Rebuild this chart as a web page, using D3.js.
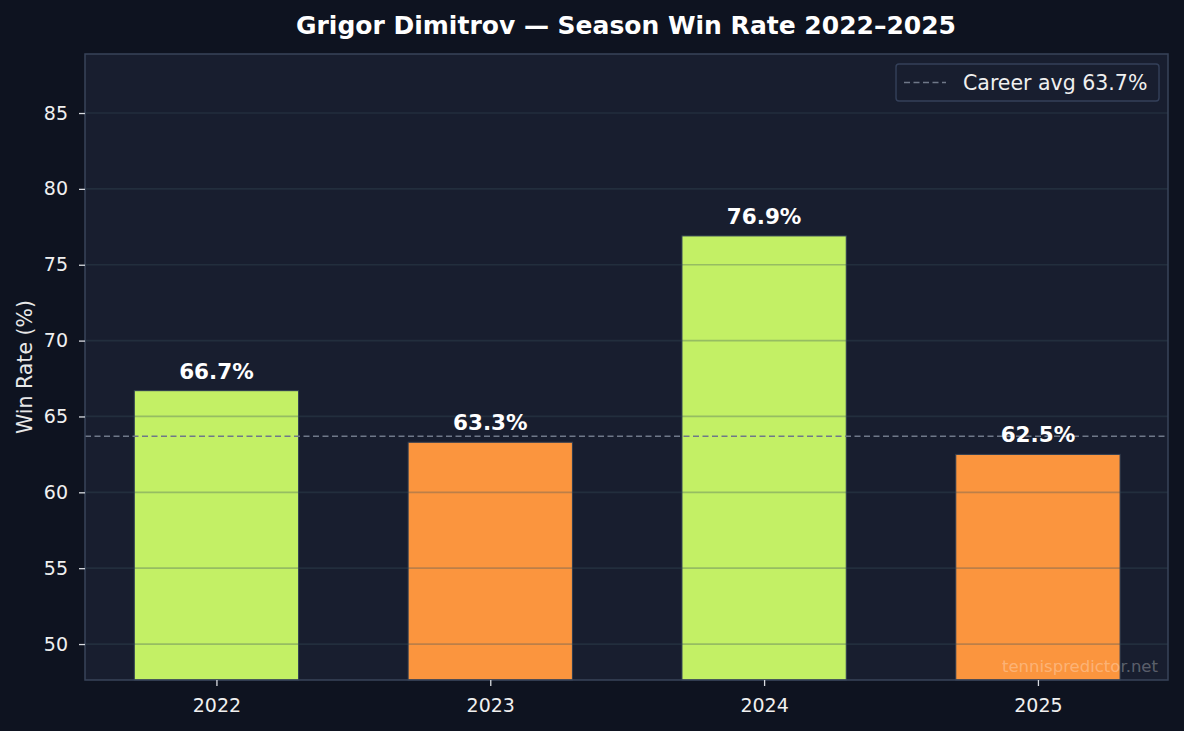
<!DOCTYPE html>
<html>
<head>
<meta charset="utf-8">
<script src="https://cdn.jsdelivr.net/npm/d3@7"></script>
<style>
  body { margin: 0; background: #0e1320; }
  svg { display: block; font-family: "DejaVu Sans", sans-serif; }
</style>
</head>
<body>
<div id="chart"></div>
<script>
var seasons = ['2022', '2023', '2024', '2025'];
var winRates = [66.7, 63.3, 76.9, 62.5];
var careerAvg = 63.7;
var yTicks = [50, 55, 60, 65, 70, 75, 80, 85];

var width = 1184, height = 731;
var margin = {top: 54, right: 16, bottom: 51, left: 85};
var plotW = width - margin.left - margin.right;
var plotH = height - margin.top - margin.bottom;

var svg = d3.select('#chart')
    .append('svg')
    .attr('width', width)
    .attr('height', height);

svg.append('rect')
    .attr('width', width)
    .attr('height', height)
    .attr('fill', '#0e1320');

var g = svg.append('g')
    .attr('transform', 'translate(' + margin.left + ',' + margin.top + ')');

// category index -> pixel, matplotlib-like padding
var x = d3.scaleLinear()
    .domain([-0.48, 3.475])
    .range([0, plotW]);

var y = d3.scaleLinear()
    .domain([47.63, 88.89])
    .range([plotH, 0]);

var barW = x(0.6) - x(0);

g.append('rect')
    .attr('width', plotW)
    .attr('height', plotH)
    .attr('fill', '#181e2f');

// bars
g.selectAll('.bar')
    .data(winRates)
    .enter()
    .append('rect')
    .attr('class', 'bar')
    .attr('x', function(d, i) { return x(i) - barW / 2; })
    .attr('y', function(d) { return y(d); })
    .attr('width', barW)
    .attr('height', function(d) { return plotH - y(d); })
    .attr('fill', function(d) { return d >= careerAvg ? '#c3f065' : '#fb953e'; })
    .attr('stroke', '#2e3d52')
    .attr('stroke-width', 1);

// grid on top of bars (semi transparent)
g.selectAll('.grid')
    .data(yTicks)
    .enter()
    .append('line')
    .attr('class', 'grid')
    .attr('x1', 0)
    .attr('x2', plotW)
    .attr('y1', function(d) { return y(d); })
    .attr('y2', function(d) { return y(d); })
    .attr('stroke', '#38505e')
    .attr('stroke-opacity', 0.32)
    .attr('stroke-width', 1.7);

// career average
g.append('line')
    .attr('x1', 0)
    .attr('x2', plotW)
    .attr('y1', y(careerAvg))
    .attr('y2', y(careerAvg))
    .attr('stroke', '#6f7889')
    .attr('stroke-width', 1.4)
    .attr('stroke-dasharray', '6,3.5');

// value labels
g.selectAll('.val')
    .data(winRates)
    .enter()
    .append('text')
    .attr('x', function(d, i) { return x(i); })
    .attr('y', function(d) { return y(d) - 12; })
    .attr('text-anchor', 'middle')
    .attr('fill', '#ffffff')
    .attr('font-size', '21.5px')
    .attr('font-weight', 'bold')
    .text(function(d) { return d.toFixed(1) + '%'; });

// watermark
g.append('text')
    .attr('x', plotW - 10)
    .attr('y', plotH - 8)
    .attr('text-anchor', 'end')
    .attr('fill', '#ffffff')
    .attr('fill-opacity', 0.3)
    .attr('font-size', '16.5px')
    .text('tennispredictor.net');

// frame
g.append('rect')
    .attr('width', plotW)
    .attr('height', plotH)
    .attr('fill', 'none')
    .attr('stroke', '#38445a')
    .attr('stroke-width', 1.5);

// axes
var yAxis = g.append('g')
    .call(d3.axisLeft(y).tickValues(yTicks).tickSize(6).tickPadding(11));
var xAxis = g.append('g')
    .attr('transform', 'translate(0,' + plotH + ')')
    .call(d3.axisBottom(x).tickValues(d3.range(seasons.length))
        .tickFormat(function(i) { return seasons[i]; })
        .tickSize(6).tickPadding(13));

[yAxis, xAxis].forEach(function(a) {
    a.select('.domain').remove();
    a.selectAll('line').attr('stroke', '#d8dbe0').attr('stroke-width', 1.3);
    a.selectAll('text')
        .attr('fill', '#f0f0f0')
        .attr('font-size', '19px')
        .attr('font-family', '"DejaVu Sans", sans-serif');
});

// y label
svg.append('text')
    .attr('transform', 'translate(32,' + (margin.top + plotH / 2) + ') rotate(-90)')
    .attr('text-anchor', 'middle')
    .attr('fill', '#e8e8e8')
    .attr('font-size', '20.5px')
    .text('Win Rate (%)');

// title
svg.append('text')
    .attr('x', 626)
    .attr('y', 34)
    .attr('text-anchor', 'middle')
    .attr('fill', '#ffffff')
    .attr('font-size', '25px')
    .attr('font-weight', 'bold')
    .text('Grigor Dimitrov \u2014 Season Win Rate 2022\u20132025');

// legend
var leg = g.append('g')
    .attr('transform', 'translate(' + (plotW - 272) + ',10)');
leg.append('rect')
    .attr('width', 263)
    .attr('height', 37)
    .attr('rx', 3)
    .attr('fill', '#181e2f')
    .attr('stroke', '#34405a')
    .attr('stroke-width', 1.4);
leg.append('line')
    .attr('x1', 8).attr('x2', 50)
    .attr('y1', 18.5).attr('y2', 18.5)
    .attr('stroke', '#6f7889')
    .attr('stroke-width', 1.4)
    .attr('stroke-dasharray', '6,3.5');
leg.append('text')
    .attr('x', 67)
    .attr('y', 26)
    .attr('fill', '#f0f0f0')
    .attr('font-size', '20.5px')
    .text('Career avg ' + careerAvg + '%');
</script>
</body>
</html>
